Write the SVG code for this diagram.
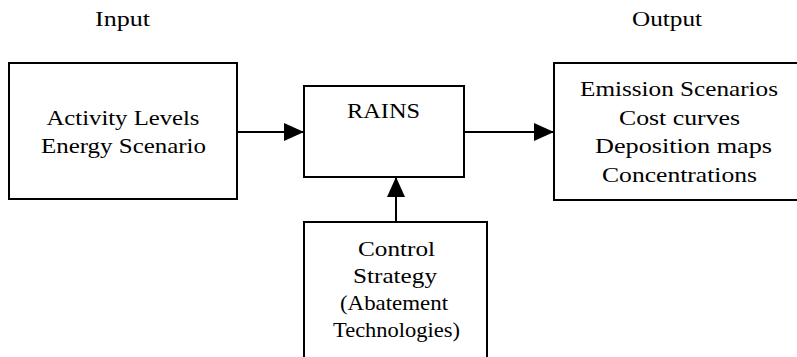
<svg xmlns="http://www.w3.org/2000/svg" width="797" height="357" viewBox="0 0 797 357">
<style>
.box{fill:#fff;stroke:#000;stroke-width:2}
.t{font-family:"Liberation Serif","Times New Roman",serif;font-size:21px;fill:#000;text-anchor:middle}
.ln{stroke:#000;stroke-width:2;fill:none}
</style>
<defs>
<marker id="ah" viewBox="0 0 20 18" refX="20" refY="9" markerWidth="20" markerHeight="18" markerUnits="userSpaceOnUse" orient="auto">
<path d="M0,0 L20,9 L0,18 Z" fill="#000"/>
</marker>
</defs>
<rect width="797" height="357" fill="#fff"/>
<text class="t" x="122.5" y="26" textLength="55" lengthAdjust="spacingAndGlyphs">Input</text>
<text class="t" x="667" y="26" textLength="70" lengthAdjust="spacingAndGlyphs">Output</text>
<g id="connectors">
<line class="ln" x1="237" y1="132" x2="304" y2="132" marker-end="url(#ah)"/>
<line class="ln" x1="464" y1="132" x2="554" y2="132" marker-end="url(#ah)"/>
<line class="ln" x1="396" y1="222" x2="396" y2="177" marker-end="url(#ah)"/>
</g>
<g id="input">
<rect class="box" x="9" y="63" width="228" height="136"/>
<text class="t" x="123" y="125" textLength="153" lengthAdjust="spacingAndGlyphs">Activity Levels</text>
<text class="t" x="123.5" y="153" textLength="165" lengthAdjust="spacingAndGlyphs">Energy Scenario</text>
</g>
<g id="rains">
<rect class="box" x="304" y="86" width="160" height="91"/>
<text class="t" x="383.5" y="118" textLength="73" lengthAdjust="spacingAndGlyphs">RAINS</text>
</g>
<g id="output">
<rect class="box" x="554" y="63" width="260" height="137"/>
<text class="t" x="679" y="96" textLength="198" lengthAdjust="spacingAndGlyphs">Emission Scenarios</text>
<text class="t" x="679.5" y="124.5" textLength="121" lengthAdjust="spacingAndGlyphs">Cost curves</text>
<text class="t" x="683.5" y="153" textLength="177" lengthAdjust="spacingAndGlyphs">Deposition maps</text>
<text class="t" x="679.5" y="181.5" textLength="155" lengthAdjust="spacingAndGlyphs">Concentrations</text>
</g>
<g id="control">
<rect class="box" x="304" y="222" width="183" height="150"/>
<text class="t" x="396.5" y="256" textLength="77" lengthAdjust="spacingAndGlyphs">Control</text>
<text class="t" x="395" y="283" textLength="84" lengthAdjust="spacingAndGlyphs">Strategy</text>
<text class="t" x="394" y="310" textLength="108" lengthAdjust="spacingAndGlyphs">(Abatement</text>
<text class="t" x="396.5" y="337" textLength="127" lengthAdjust="spacingAndGlyphs">Technologies)</text>
</g>
</svg>
